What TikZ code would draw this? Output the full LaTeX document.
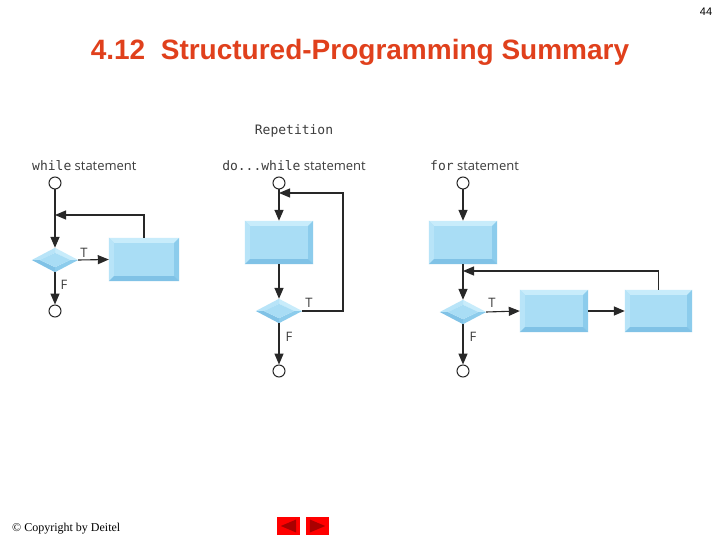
\documentclass[tikz,border=0pt]{standalone}
\usepackage{fontspec}
\setmainfont{Liberation Serif}
\newfontfamily\sansf{Liberation Sans}
\newfontfamily\labf{Open Sans}
\newfontfamily\codef{DejaVu Sans Mono}
\usetikzlibrary{calc,arrows.meta}
\definecolor{titlered}{RGB}{224,64,28}
\definecolor{face}{RGB}{169,221,245}
\definecolor{bevT}{RGB}{200,236,251}
\definecolor{bevL}{RGB}{184,228,248}
\definecolor{bevR}{RGB}{140,204,236}
\definecolor{bevB}{RGB}{128,194,230}
\definecolor{linec}{RGB}{40,40,40}
\definecolor{txtc}{RGB}{60,60,60}
\definecolor{darkred}{RGB}{170,0,0}
\tikzset{
  boxn/.style={rectangle, draw=none, inner sep=0pt, fill=face},
  dian/.style={rectangle, draw=none, inner sep=0pt},
  endc/.style={circle, draw=linec, line width=1pt, fill=white, minimum size=12pt, inner sep=0pt},
  flow/.style={draw=linec, line width=1.4pt, -{Triangle[length=11pt,width=9pt]}},
  thinflow/.style={draw=linec, line width=1.1pt, -{Triangle[length=11pt,width=9pt]}},
  lbl/.style={text=txtc, inner sep=0pt, font=\labf\fontsize{13}{15}\selectfont},
  tf/.style={text=txtc, inner sep=0pt, font=\labf\fontsize{13}{15}\selectfont},
  btn/.style={rectangle, fill=red, draw=none, minimum width=23pt, minimum height=18pt, inner sep=0pt}
}
% bevelled box: name, cx, cy, w, h
\newcommand\bbox[5]{%
  \node[boxn, minimum width=#4pt, minimum height=#5pt] (#1) at (#2,#3) {};
  \fill[bevT] (#1.north west) -- (#1.north east) -- ($(#1.north east)+(-5,5)$) -- ($(#1.north west)+(5,5)$) -- cycle;
  \fill[bevL] (#1.north west) -- ($(#1.north west)+(5,5)$) -- ($(#1.south west)+(5,-5)$) -- (#1.south west) -- cycle;
  \fill[bevR] (#1.north east) -- ($(#1.north east)+(-5,5)$) -- ($(#1.south east)+(-5,-5)$) -- (#1.south east) -- cycle;
  \fill[bevB] (#1.south west) -- ($(#1.south west)+(5,-5)$) -- ($(#1.south east)+(-5,-5)$) -- (#1.south east) -- cycle;
}
% bevelled diamond: name, cx, cy
\newcommand\bdia[3]{%
  \node[dian, minimum width=46pt, minimum height=24pt] (#1) at (#2,#3) {};
  \fill[bevT] (#1.north) -- (#1.east) -- ($(#1.east)+(-8,0)$) -- ($(#1.north)+(0,5)$) -- cycle;
  \fill[bevL] (#1.north) -- ($(#1.north)+(0,5)$) -- ($(#1.west)+(8,0)$) -- (#1.west) -- cycle;
  \fill[bevB] (#1.west) -- ($(#1.west)+(8,0)$) -- ($(#1.south)+(0,-5)$) -- (#1.south) -- cycle;
  \fill[bevR] (#1.south) -- ($(#1.south)+(0,-5)$) -- ($(#1.east)+(-8,0)$) -- (#1.east) -- cycle;
  \fill[face] ($(#1.north)+(0,5)$) -- ($(#1.east)+(-8,0)$) -- ($(#1.south)+(0,-5)$) -- ($(#1.west)+(8,0)$) -- cycle;
}
\begin{document}
\begin{tikzpicture}[x=1pt,y=-1pt]
\useasboundingbox (0,0) rectangle (720,540);
\fill[white] (0,0) rectangle (720,540);
% page number and title
\node[inner sep=0pt, font=\sansf\fontsize{11}{13}\selectfont] (pg) at (706,12) {44};
\node[inner sep=0pt, text=titlered, font=\sansf\bfseries\fontsize{28}{32}\selectfont] (title) at (360,52) {4.12\ \ Structured-Programming Summary};
\node[text=txtc, inner sep=0pt, font=\codef\fontsize{13}{15}\selectfont] (rep) at (294,131) {Repetition};

% ---------- while ----------
\node[lbl, anchor=west] (wl) at (32,166) {{\codef while} statement};
\node[endc] (wc1) at (55,183) {};
\bbox{wb}{144}{259.5}{70}{43}
\bdia{wd}{55}{260}
\coordinate (wj) at (55,215);
\node[endc] (wc2) at (55,311) {};
\draw[flow] (wc1) -- (wd.north);
\draw[thinflow] (wb.north) |- (wj);
\draw[thinflow] (wd.east) -- (wb.west);
\draw[flow] (wd.south) -- (wc2);
\node[tf] (wt) at (84,253) {T};
\node[tf] (wf) at (64,285) {F};

% ---------- do...while ----------
\node[lbl] (dl) at (294,166) {{\codef do...while} statement};
\node[endc] (dc1) at (279,183) {};
\bbox{db}{279}{242.5}{68}{43}
\bdia{dd}{279}{311}
\coordinate (dj) at (279,193);
\coordinate (dr) at (343,311);
\node[endc] (dc2) at (279,371) {};
\draw[flow] (dc1) -- (db.north);
\draw[flow] (db.south) -- (dd.north);
\draw[thinflow] (dd.east) -- (dr) |- (dj);
\draw[flow] (dd.south) -- (dc2);
\node[tf] (dt) at (309,303) {T};
\node[tf] (df) at (289,337) {F};

% ---------- for ----------
\node[lbl, anchor=west] (fl) at (430,166) {{\codef for} statement};
\node[endc] (fc1) at (463,183) {};
\bbox{fb0}{463}{242.5}{68}{43}
\bdia{fd}{463}{312}
\bbox{fb1}{554}{311}{68}{42}
\bbox{fb2}{658.5}{311}{67}{42}
\coordinate (fj) at (463,271);
\node[endc] (fc2) at (463,371) {};
\draw[flow] (fc1) -- (fb0.north);
\draw[flow] (fb0.south) -- (fd.north);
\draw[thinflow] (fb2.north) |- (fj);
\draw[thinflow] (fd.east) -- (fb1.west);
\draw[flow] (fb1.east) -- (fb2.west);
\draw[flow] (fd.south) -- (fc2);
\node[tf] (ft) at (492,303) {T};
\node[tf] (ff) at (473,337) {F};

% ---------- footer ----------
\node[inner sep=0pt, anchor=west, font=\fontsize{12}{14}\selectfont] (copy) at (12,529) {\textcopyright{} Copyright by Deitel};
\node[btn] (bl) at (288.5,526) {};
\node[btn] (br) at (317.5,526) {};
\fill[darkred] ($(bl.west)+(4,0)$) -- ($(bl.east)+(-4,-6.5)$) -- ($(bl.east)+(-4,6.5)$) -- cycle;
\fill[darkred] ($(br.east)+(-4,0)$) -- ($(br.west)+(4,-6.5)$) -- ($(br.west)+(4,6.5)$) -- cycle;
\end{tikzpicture}
\end{document}
